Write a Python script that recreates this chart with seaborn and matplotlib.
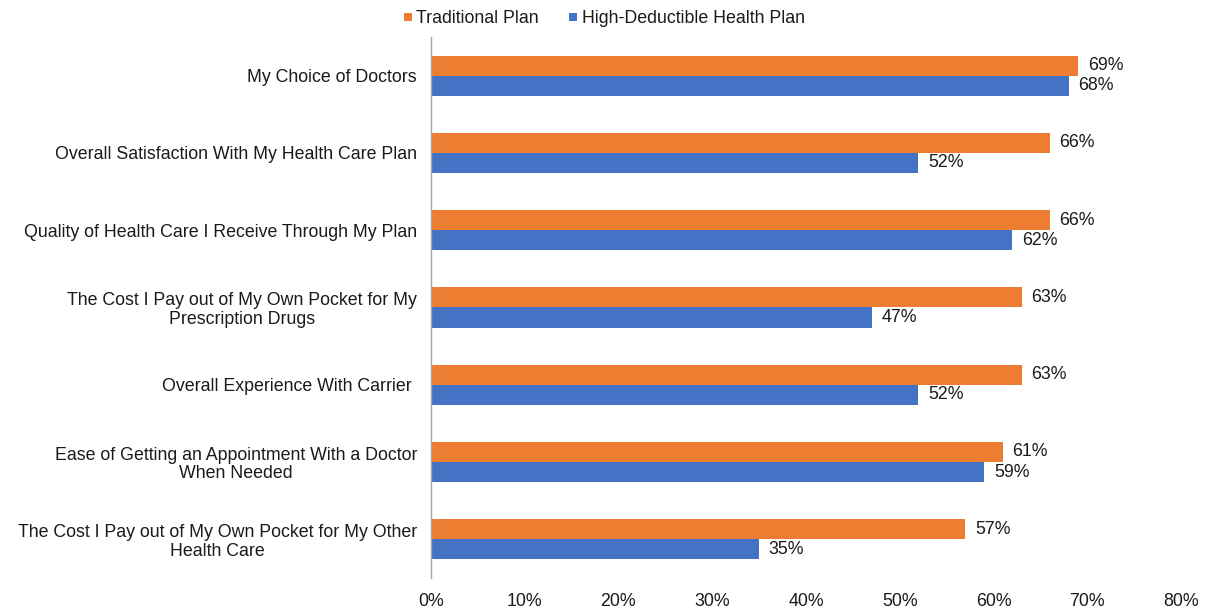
import matplotlib
matplotlib.use("Agg")
import matplotlib.pyplot as plt
import seaborn as sns
import pandas as pd
from matplotlib.lines import Line2D
from matplotlib.ticker import PercentFormatter

categories = [
    "My Choice of Doctors",
    "Overall Satisfaction With My Health Care Plan",
    "Quality of Health Care I Receive Through My Plan",
    "The Cost I Pay out of My Own Pocket for My\nPrescription Drugs",
    "Overall Experience With Carrier ",
    "Ease of Getting an Appointment With a Doctor\nWhen Needed",
    "The Cost I Pay out of My Own Pocket for My Other\nHealth Care",
]
traditional = [69, 66, 66, 63, 63, 61, 57]
hdhp = [68, 52, 62, 47, 52, 59, 35]
series_names = ["Traditional Plan", "High-Deductible Health Plan"]
colors = ["#ED7D31", "#4472C4"]
x_ticks = [0, 10, 20, 30, 40, 50, 60, 70, 80]

df = pd.DataFrame({
    "category": categories * 2,
    "plan": [series_names[0]] * len(categories) + [series_names[1]] * len(categories),
    "value": traditional + hdhp,
})

sns.set_theme(style="white")
plt.rcParams["font.family"] = ["Liberation Sans", "DejaVu Sans"]

FS = 12.8
TXT = "#1a1a1a"

fig = plt.figure(figsize=(12.07, 6.12), dpi=100)
ax = fig.add_axes([0.357, 0.0556, 0.6215, 0.884])

sns.barplot(data=df, y="category", x="value", hue="plan", orient="h",
            palette=colors, width=0.52, linewidth=0, saturation=1,
            ax=ax, legend=False)

for cont in ax.containers:
    ax.bar_label(cont, labels=[f"{int(round(b.get_width()))}%" for b in cont],
                 padding=7, fontsize=FS, color=TXT)

ax.set_xlim(0, 80)
ax.set_ylim(6.5, -0.5)
ax.set_xticks(x_ticks)
ax.xaxis.set_major_formatter(PercentFormatter(decimals=0))
ax.tick_params(axis="x", length=0, pad=11, labelsize=FS, labelcolor=TXT)
ax.tick_params(axis="y", length=0, pad=10, labelsize=FS, labelcolor=TXT)
for lbl in ax.get_yticklabels():
    lbl.set_multialignment("center")
    lbl.set_linespacing(1.1)
ax.set_xlabel("")
ax.set_ylabel("")

for side in ["top", "right", "bottom"]:
    ax.spines[side].set_visible(False)
ax.spines["left"].set_color("#A6A6A6")
ax.spines["left"].set_linewidth(1.0)

handles = [Line2D([0], [0], marker="s", linestyle="none", markersize=6,
                  markerfacecolor=c, markeredgewidth=0) for c in colors]
fig.legend(handles, series_names, loc="upper center", bbox_to_anchor=(0.5, 1.01),
           ncol=2, frameon=False, fontsize=FS, handletextpad=0.2,
           columnspacing=1.6, handlelength=0.6, labelcolor=TXT)

fig.savefig("out.png", dpi=100)
